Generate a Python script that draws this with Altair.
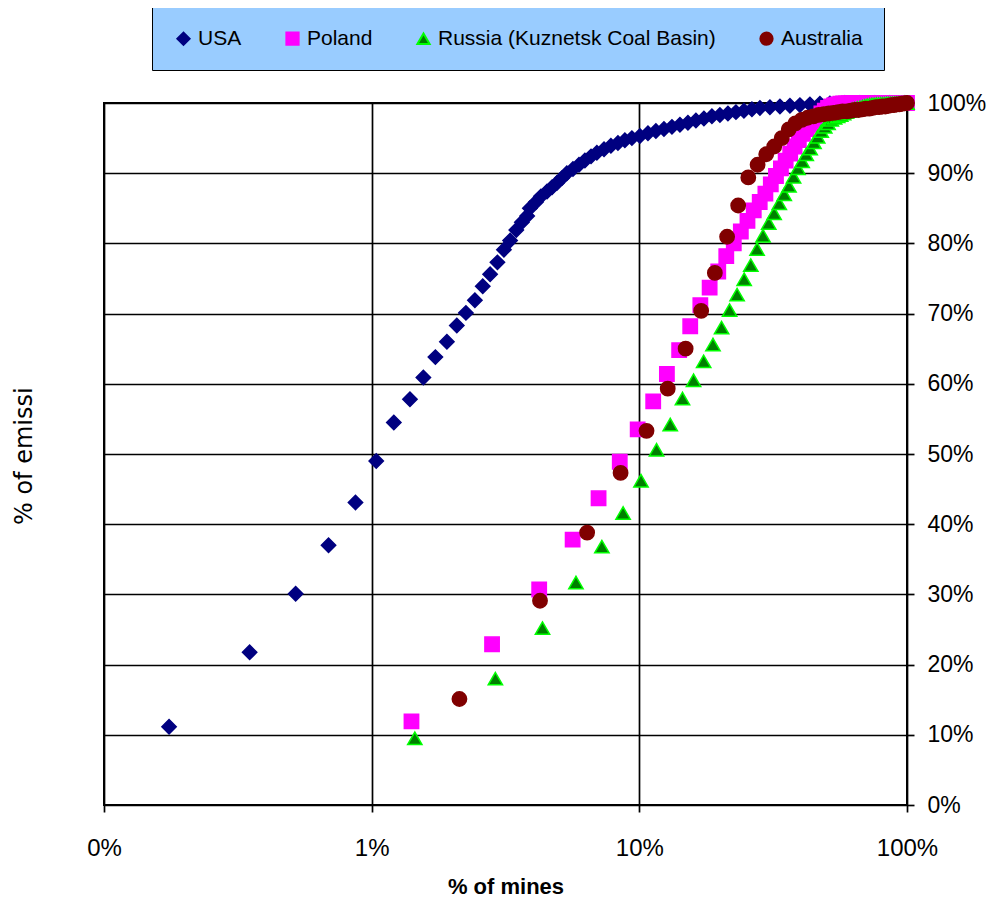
import altair as alt
import pandas as pd

# ---------------- data ----------------
SERIES = ["USA", "Poland", "Russia (Kuznetsk Coal Basin)", "Australia"]
FILLS = ["#000080", "#FF00FF", "#008000", "#800000"]
STROKES = ["#000080", "#FF00FF", "#00FF00", "#800000"]
SHAPES = ["diamond", "square", "triangle-up", "circle"]

X_TICKS = [0.001, 0.01, 0.1, 1]
Y_TICKS = [0, 0.1, 0.2, 0.3, 0.4, 0.5, 0.6, 0.7, 0.8, 0.9, 1.0]
X_TITLE = "% of mines"
Y_TITLE = "% of emissi"

# USA: % of mines / % of emissions (individual points, then the dense band)
USA_X = [0.175, 0.35, 0.52, 0.69, 0.87, 1.04, 1.21, 1.39, 1.56, 1.73, 1.91,
         2.08, 2.25, 2.43, 2.60, 2.77, 2.95, 3.12, 3.29, 3.47, 3.64, 3.81,
         3.90, 4.11, 4.29, 4.52, 4.72, 4.92, 5.14, 5.36, 5.65, 5.95, 6.26,
         6.60, 6.94, 7.38, 7.83, 8.32, 8.83, 9.38, 10.05, 10.77, 11.53,
         12.36, 13.24, 14.18, 15.19, 16.27, 17.43, 18.67, 20.00, 21.43,
         22.96, 24.59, 26.34, 28.22, 30.75, 33.52, 36.53, 39.81, 43.39,
         47.27, 51.52, 58.61, 66.70, 75.89, 86.33, 98.22]
USA_Y = [11.15, 21.75, 30.1, 37.0, 43.1, 49.0, 54.5, 57.8, 60.9, 63.8, 66.0,
         68.3, 70.1, 71.9, 73.9, 75.6, 77.3, 79.1, 80.4, 81.9, 83.0, 83.9,
         85.0, 85.9, 86.7, 87.4, 88.0, 88.6, 89.3, 90.0, 90.6, 91.2, 91.8,
         92.4, 92.9, 93.4, 93.9, 94.3, 94.7, 95.0, 95.3, 95.7, 96.0,
         96.3, 96.6, 96.9, 97.2, 97.5, 97.8, 98.1, 98.3, 98.5,
         98.7, 98.9, 99.1, 99.3, 99.4, 99.5, 99.6, 99.7, 99.8,
         99.9, 99.95, 100, 100, 100, 100, 100]

# Other basins: number of mines and cumulative % of emissions per ranked mine
POLAND_MINES = 71
POLAND_Y = [11.9, 22.9, 30.7, 37.8, 43.7, 48.9, 53.5, 57.5, 61.4, 64.8,
            68.2, 71.2, 73.7, 76.0, 78.2, 80.0, 81.7, 83.2, 84.7, 85.9,
            87.1, 88.4, 89.6, 90.7, 91.8, 92.8, 93.8, 94.7, 95.6, 96.3,
            96.9, 97.5, 98.0, 98.5, 98.9, 99.3, 99.5, 99.7, 99.8, 99.9,
            99.95, 99.95, 99.97, 99.97, 99.98, 99.98, 99.99, 99.99, 100, 100,
            100, 100, 100, 100, 100, 100, 100, 100, 100, 100,
            100, 100, 100, 100, 100, 100, 100, 100, 100, 100, 100]

RUSSIA_MINES = 69
RUSSIA_Y = [9.5, 18.0, 25.2, 31.7, 36.8, 41.6, 46.2, 50.6, 54.2, 57.9,
            60.5, 63.2, 65.6, 68.0, 70.5, 72.7, 74.9, 76.9, 79.2, 81.1,
            82.9, 84.3, 85.7, 87.0, 88.2, 89.5, 90.7, 91.7, 92.7, 93.5,
            94.4, 95.2, 96.0, 96.6, 97.1, 97.6, 97.9, 98.1, 98.3, 98.5,
            98.7, 98.9, 99.1, 99.2, 99.3, 99.4, 99.5, 99.6, 99.7, 99.75,
            99.8, 99.8, 99.85, 99.85, 99.9, 99.9, 99.9, 99.95, 99.95, 99.95,
            99.97, 99.97, 99.98, 99.98, 99.99, 99.99, 100, 100, 100]

AUSTRALIA_MINES = 47
AUSTRALIA_Y = [15.1, 29.1, 38.8, 47.3, 53.3, 59.3, 65.0, 70.4, 75.8, 80.95,
               85.4, 89.4, 91.2, 92.7, 93.8, 95.0, 96.25, 97.1, 97.6, 97.9,
               98.1, 98.3, 98.4, 98.5, 98.6, 98.7, 98.8, 98.8, 98.9, 99.0,
               99.0, 99.1, 99.2, 99.2, 99.3, 99.4, 99.4, 99.5, 99.5, 99.6,
               99.7, 99.7, 99.8, 99.8, 99.9, 99.95, 100]

# ---------------- table ----------------
rows = []
for x, y in zip(USA_X, USA_Y):
    rows.append((SERIES[0], x / 100, y / 100))
for name, n, ys in [(SERIES[1], POLAND_MINES, POLAND_Y),
                    (SERIES[2], RUSSIA_MINES, RUSSIA_Y),
                    (SERIES[3], AUSTRALIA_MINES, AUSTRALIA_Y)]:
    for i, y in enumerate(ys, start=1):
        rows.append((name, i / n, y / 100))
df = pd.DataFrame(rows, columns=["series", "mines", "emissions"])
df["order"] = range(len(df))

# ---------------- chart ----------------
legend = alt.Legend(
    title=None, orient="none", legendX=48, legendY=-96,
    direction="horizontal", columns=4,
    fillColor="#99CCFF", strokeColor="#000000",
    padding=21, columnPadding=40,
    labelFont="Liberation Sans", labelFontSize=21, labelColor="#000000",
    labelLimit=0, labelOffset=4, symbolSize=150, symbolStrokeWidth=2,
    symbolOpacity=1,
)

points = alt.Chart(df).mark_point(
    filled=True, size=205, opacity=1, strokeWidth=1.5
).encode(
    x=alt.X("mines:Q",
            scale=alt.Scale(type="log", domain=[0.001, 1], nice=False),
            axis=alt.Axis(values=X_TICKS, format=".0%", title=X_TITLE,
                          labelFlush=False, labelPadding=24, titlePadding=16,
                          titleFont="Liberation Sans", titleFontSize=22,
                          titleFontWeight="bold", titleColor="#000000")),
    y=alt.Y("emissions:Q",
            scale=alt.Scale(domain=[0, 1], nice=False),
            axis=alt.Axis(orient="right", values=Y_TICKS, format=".0%",
                          labelFlush=False, title=None, labelPadding=13,
                          labelFontSize=23)),
    fill=alt.Fill("series:N", scale=alt.Scale(domain=SERIES, range=FILLS), legend=legend),
    stroke=alt.Stroke("series:N", scale=alt.Scale(domain=SERIES, range=STROKES), legend=legend),
    shape=alt.Shape("series:N", scale=alt.Scale(domain=SERIES, range=SHAPES), legend=legend),
    order=alt.Order("order:Q"),
)

ytitle = alt.Chart(pd.DataFrame({"t": [Y_TITLE]})).mark_text(
    angle=270, align="left", baseline="middle",
    font="DejaVu Sans", fontSize=24, color="#000000"
).encode(text="t:N", x=alt.value(-79), y=alt.value(422))

chart = alt.layer(points, ytitle).properties(
    width=803, height=702,
    padding={"left": 96, "top": 95, "right": 80, "bottom": 94},
    autosize=alt.AutoSizeParams(type="none"),
    background="white",
).configure_axis(
    grid=True, gridColor="#000000", gridWidth=1.7, gridOpacity=1,
    tickColor="#000000", tickSize=7, tickWidth=1.7,
    domain=False,
    labelFont="Liberation Sans", labelFontSize=24, labelColor="#000000",
).configure_view(stroke="#000000", strokeWidth=2)

chart.save("out.html", embed_options={"renderer": "svg", "actions": False})
